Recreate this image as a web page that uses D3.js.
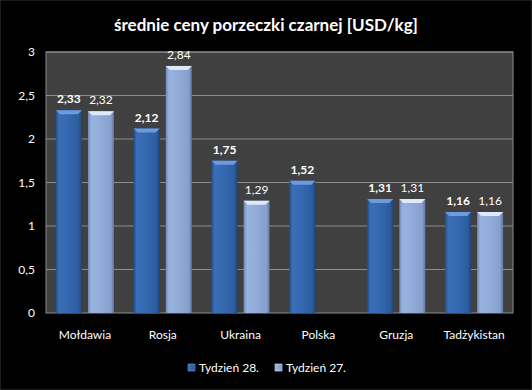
<!DOCTYPE html>
<html>
<head>
<meta charset="utf-8">
<script src="https://cdn.jsdelivr.net/npm/d3@7"></script>
<style>
body { margin: 0; background: #000; }
text { font-family: Lato, "Open Sans", sans-serif; fill: #fff; }
</style>
</head>
<body>
<svg id="chart"></svg>
<script>
// dane z wykresu
const categories = ["Mołdawia", "Rosja", "Ukraina", "Polska", "Gruzja", "Tadżykistan"];
const week28 = [2.33, 2.12, 1.75, 1.52, 1.31, 1.16];
const week27 = [2.32, 2.84, 1.29, null, 1.31, 1.16];
const seriesNames = ["Tydzień 28.", "Tydzień 27."];
const yTicks = [0, 0.5, 1, 1.5, 2, 2.5, 3];

const width = 532, height = 390;
const margin = {top: 52, right: 19, bottom: 77, left: 46};

const svg = d3.select("#chart").attr("width", width).attr("height", height);

svg.append("rect").attr("width", width).attr("height", height).attr("fill", "#000")
    .attr("stroke", "#3a3a3a");

const defs = svg.append("defs");
function grad(id, stops) {
    const g = defs.append("linearGradient").attr("id", id)
        .attr("x1", "0%").attr("x2", "100%").attr("y1", "0%").attr("y2", "0%");
    stops.forEach(s => g.append("stop").attr("offset", s[0]).attr("stop-color", s[1]));
}
grad("g28", [["0%", "#234f8a"], ["12%", "#3a6fb8"], ["50%", "#3469b0"], ["88%", "#2c5c9e"], ["100%", "#1e4478"]]);
grad("g27", [["0%", "#6f88b5"], ["12%", "#98b3e0"], ["50%", "#91acd9"], ["88%", "#869fcc"], ["100%", "#61779f"]]);

const fmt = v => d3.format(".2f")(v).replace(".", ",");

const x0 = d3.scaleBand().domain(categories)
    .range([margin.left, width - margin.right]).paddingInner(0.254).paddingOuter(0.127);
const x1 = d3.scaleBand().domain([0, 1]).range([0, x0.bandwidth()]).paddingInner(0.19);
const y = d3.scaleLinear().domain([0, 3]).range([height - margin.bottom, margin.top]);

// tło wykresu
svg.append("rect")
    .attr("x", margin.left).attr("y", margin.top)
    .attr("width", width - margin.left - margin.right)
    .attr("height", height - margin.top - margin.bottom)
    .attr("fill", "#404040").attr("stroke", "#8c8c8c");

svg.append("g").selectAll("line").data(yTicks.slice(1)).enter().append("line")
    .attr("x1", margin.left).attr("x2", width - margin.right)
    .attr("y1", d => y(d)).attr("y2", d => y(d))
    .attr("stroke", "#8c8c8c");

svg.append("g").selectAll("text").data(yTicks).enter().append("text")
    .attr("x", 35).attr("y", d => y(d) + 4)
    .attr("text-anchor", "end").style("font-size", "12px")
    .text(d => String(d).replace(".", ","));

const rows = [];
categories.forEach((c, i) => {
    [week28[i], week27[i]].forEach((v, s) => {
        if (v != null) rows.push({c, s, v});
    });
});

const bars = svg.append("g").selectAll("g").data(rows).enter().append("g");
bars.append("rect")
    .attr("x", d => x0(d.c) + x1(d.s))
    .attr("y", d => y(d.v))
    .attr("width", x1.bandwidth())
    .attr("height", d => y(0) - y(d.v))
    .attr("fill", d => d.s === 0 ? "url(#g28)" : "url(#g27)");
// fazowanie na górze
bars.append("path")
    .attr("d", d => {
        const bx = x0(d.c) + x1(d.s), bw = x1.bandwidth(), by = y(d.v);
        return `M${bx},${by}L${bx + bw},${by}L${bx + bw - 4},${by + 4}L${bx + 4},${by + 4}Z`;
    })
    .attr("fill", d => d.s === 0 ? "#6d9be0" : "#dfe9fb");

bars.append("text")
    .attr("x", d => x0(d.c) + x1(d.s) + x1.bandwidth() / 2)
    .attr("y", d => y(d.v) - 7)
    .attr("text-anchor", "middle")
    .style("font-size", "12px")
    .style("font-weight", d => d.s === 0 ? "bold" : "normal")
    .text(d => fmt(d.v));

svg.append("g").selectAll("text").data(categories).enter().append("text")
    .attr("x", d => x0(d) + x0.bandwidth() / 2)
    .attr("y", 339)
    .attr("text-anchor", "middle").style("font-size", "12px")
    .text(d => d);

svg.append("text")
    .attr("x", width / 2).attr("y", 31)
    .attr("text-anchor", "middle")
    .style("font-size", "17px").style("font-weight", "bold")
    .text("średnie ceny porzeczki czarnej [USD/kg]");

// legenda
const legend = svg.append("g");
const lx = [188, 275];
seriesNames.forEach((n, i) => {
    legend.append("rect").attr("x", lx[i]).attr("y", 364).attr("width", 7).attr("height", 7)
        .attr("fill", i === 0 ? "url(#g28)" : "url(#g27)")
        .attr("stroke", i === 0 ? "#6d9be0" : "#dfe9fb").attr("stroke-width", 0.6);
    legend.append("text").attr("x", lx[i] + 11).attr("y", 372)
        .style("font-size", "12px").text(n);
});
</script>
</body>
</html>
